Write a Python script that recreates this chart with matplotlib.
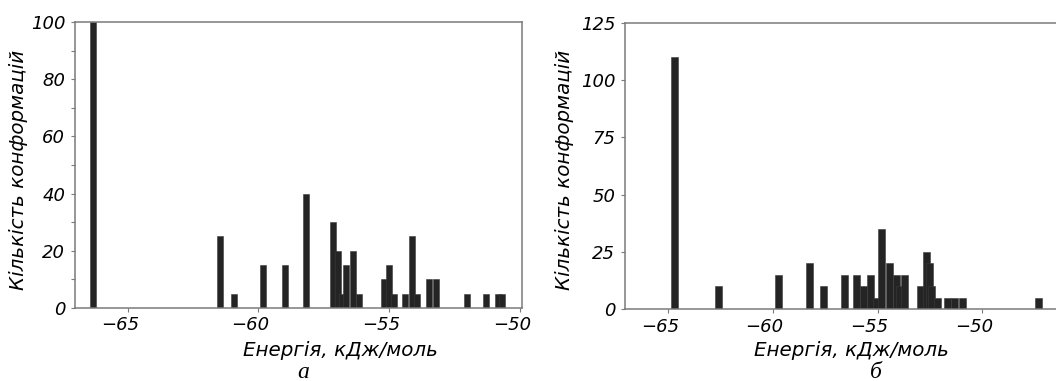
import matplotlib
matplotlib.use("Agg")
import matplotlib.pyplot as plt
import matplotlib.transforms as mtransforms
from matplotlib.ticker import MultipleLocator

# panel "а": energy bin centres (kJ/mol) and counts
energy_a = [-66.34, -61.49, -60.94, -59.82, -59.00, -58.17,
            -57.16, -56.95, -56.79, -56.64, -56.40, -56.15,
            -55.19, -55.00, -54.81, -54.39, -54.12, -53.92,
            -53.47, -53.22, -52.02, -51.31, -50.82, -50.70]
count_a = [100, 25, 5, 15, 15, 40,
           30, 20, 5, 15, 20, 5,
           10, 15, 5, 5, 25, 5,
           10, 10, 5, 5, 5, 5]

# panel "б"
energy_b = [-64.67, -62.58, -59.73, -58.23, -57.56, -56.59,
            -56.00, -55.67, -55.35, -55.07, -54.79, -54.44,
            -54.09, -53.95, -53.72, -52.97, -52.65, -52.54,
            -52.42, -52.14, -51.66, -51.31, -50.96, -47.33]
count_b = [110, 10, 15, 20, 10, 15,
           15, 10, 15, 5, 35, 20,
           15, 10, 15, 10, 25, 20,
           10, 5, 5, 5, 5, 5]

xlabel = "Енергія, кДж/моль"
ylabel = "Кількість конформацій"

plt.rcParams['font.family'] = ['DejaVu Sans']
plt.rcParams['font.style'] = 'oblique'

fig = plt.figure(figsize=(10.56, 3.81), dpi=100)
ax1 = fig.add_axes([0.0710, 0.1916, 0.4233, 0.7507])
ax2 = fig.add_axes([0.5919, 0.1882, 0.4081, 0.7522])

bar_col = '#242424'
spine_col = '#7a7a7a'

ax1.bar(energy_a, count_a, width=0.23, color=bar_col, edgecolor='#3a3a3a', linewidth=0.4)
ax2.bar(energy_b, count_b, width=0.33, color=bar_col, edgecolor='#3a3a3a', linewidth=0.4)

ax1.set_xlim(-67.02, -49.92)
ax1.set_ylim(0, 100)
ax1.yaxis.set_major_locator(MultipleLocator(20))
ax1.yaxis.set_minor_locator(MultipleLocator(10))

ax2.set_xlim(-67.04, -46.49)
ax2.set_ylim(0, 125)
ax2.yaxis.set_major_locator(MultipleLocator(25))
ax2.spines['right'].set_visible(False)

for ax in (ax1, ax2):
    ax.xaxis.set_major_locator(MultipleLocator(5))
    for s in ax.spines.values():
        s.set_color(spine_col)
        s.set_linewidth(1.1)
    ax.tick_params(which='both', direction='out', length=3, width=0.8,
                   color=spine_col, labelsize=13, pad=3)
    ax.tick_params(axis='y', pad=4)
    # tick labels sit a bit left of their ticks in the original
    off = mtransforms.ScaledTranslation(-8 / 100, 0, fig.dpi_scale_trans)
    for lab in ax.get_xticklabels():
        lab.set_transform(lab.get_transform() + off)
    ax.set_xlabel(xlabel, fontsize=14.3)
    ax.set_ylabel(ylabel, fontsize=14.3)

ax1.xaxis.set_label_coords(0.594, -0.115)
ax2.xaxis.set_label_coords(0.526, -0.110)
ax1.yaxis.set_label_coords(-0.105, 0.4825)
ax2.yaxis.set_label_coords(-0.118, 0.486)

fig.text(303 / 1056, 0.008, "а", family='Liberation Serif', style='italic',
         fontsize=17, ha='center', va='baseline')
fig.text(876 / 1056, 0.008, "б", family='Liberation Serif', style='italic',
         fontsize=17, ha='center', va='baseline')

fig.savefig("out.png", dpi=100)
